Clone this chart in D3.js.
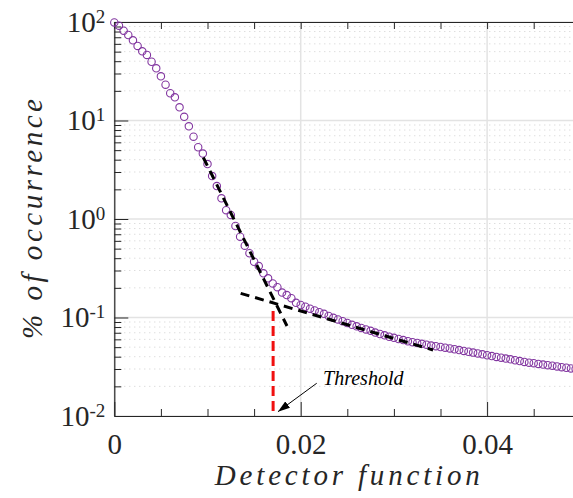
<!DOCTYPE html>
<meta charset="utf-8">
<style>
body { margin: 0; background: #fff; }
svg { font-family: "Liberation Serif", serif; }
.tick line { stroke: #262626; }
.domain { stroke: #262626; }
.tick text { fill: #262626; font-size: 29px; font-family: "Liberation Serif", serif; }
</style>
<body>
<svg id="chart" width="573" height="498"></svg>
<script src="https://d3js.org/d3.v7.min.js"></script>
<script>

// detector function values (x) and % of occurrence (y)
var detX = [0,0.0005,0.001,0.0015,0.002,0.0025,0.003,0.0035,0.004,0.0045,
  0.005,0.0055,0.006,0.0065,0.007,0.0075,0.008,0.0085,0.009,0.0095,
  0.01,0.0105,0.011,0.0115,0.012,0.0125,0.013,0.0135,0.014,0.0145,
  0.015,0.0155,0.016,0.0165,0.017,0.0175,0.018,0.0185,0.019,0.0195,
  0.02,0.0205,0.021,0.0215,0.022,0.0225,0.023,0.0235,0.024,0.0245,
  0.025,0.0255,0.026,0.0265,0.027,0.0275,0.028,0.0285,0.029,0.0295,
  0.03,0.0305,0.031,0.0315,0.032,0.0325,0.033,0.0335,0.034,0.0345,
  0.035,0.0355,0.036,0.0365,0.037,0.0375,0.038,0.0385,0.039,0.0395,
  0.04,0.0405,0.041,0.0415,0.042,0.0425,0.043,0.0435,0.044,0.0445,
  0.045,0.0455,0.046,0.0465,0.047,0.0475,0.048,0.0485,0.049,0.0495,0.05];
var occurrence = [99,91.7,81.6,73.8,65.2,57.1,50.4,46.3,39.5,33.9,
  28.1,23.1,18.9,17.2,13.6,10.9,8.73,6.85,5.35,4.62,
  3.61,2.73,2.16,1.62,1.23,1.10,0.849,0.661,0.535,0.449,
  0.368,0.333,0.281,0.250,0.222,0.203,0.179,0.169,0.157,0.141,
  0.134,0.1285,0.123,0.118,0.113,0.109,0.1038,0.0993,0.0955,0.0917,
  0.0879,0.0843,0.0813,0.0784,0.0757,0.0733,0.0703,0.0680,0.0659,0.0638,
  0.0622,0.0605,0.0590,0.0574,0.0562,0.0551,0.0541,0.0530,0.0519,0.0511,
  0.0502,0.0494,0.0485,0.0476,0.0467,0.0458,0.0449,0.0440,0.0432,0.0423,
  0.0414,0.0406,0.0398,0.0391,0.0383,0.0376,0.0368,0.0361,0.0354,0.0348,
  0.0344,0.0338,0.0333,0.0328,0.0324,0.0319,0.0313,0.0309,0.0304,0.0300,0.0297];

// two fitted lines and the threshold
var steepFit = [[0.00955, 4.21], [0.01853, 0.082]];
var tailFit = [[0.01356, 0.176], [0.0342, 0.0468]];
var threshold = 0.01704;
var thresholdTop = 0.1164;

var xMajor = [0, 0.02, 0.04];
var xMinor = [0.005, 0.01, 0.015, 0.025, 0.03, 0.035, 0.045];
var yMajor = [0.01, 0.1, 1, 10, 100];
var yExp = ["-2", "-1", "0", "1", "2"];
var yMinor = [];
yMajor.slice(0, 4).forEach(d => [2,3,4,5,6,7,8,9].forEach(m => yMinor.push(d * m)));

var m = {left: 114.3, right: 580.3, top: 22, bottom: 416};

var x = d3.scaleLinear().domain([0, 0.05]).range([m.left, m.right]);
var y = d3.scaleLog().domain([0.01, 100]).range([m.bottom, m.top]);

var svg = d3.select("#chart");

// grid
svg.append("g").selectAll("line")
  .data(yMinor).enter().append("line")
  .attr("x1", m.left).attr("x2", m.right)
  .attr("y1", d => y(d)).attr("y2", d => y(d))
  .attr("stroke", "#cfcfcf").attr("stroke-width", 1)
  .attr("stroke-dasharray", "1,4");
svg.append("g").selectAll("line")
  .data(yMajor).enter().append("line")
  .attr("x1", m.left).attr("x2", m.right)
  .attr("y1", d => y(d)).attr("y2", d => y(d))
  .attr("stroke", "#e3e3e3").attr("stroke-width", 1.5);
svg.append("g").selectAll("line")
  .data(xMajor).enter().append("line")
  .attr("x1", d => x(d)).attr("x2", d => x(d))
  .attr("y1", m.top).attr("y2", m.bottom)
  .attr("stroke", "#e3e3e3").attr("stroke-width", 1.5);

// axes
svg.append("g").attr("transform", `translate(0,${m.bottom})`)
  .call(d3.axisBottom(x).tickValues(xMajor).tickSizeInner(-14).tickSizeOuter(0)
    .tickPadding(17).tickFormat(d => d === 0 ? "0" : d3.format(".2f")(d)));
svg.append("g").attr("transform", `translate(0,${m.bottom})`)
  .call(d3.axisBottom(x).tickValues(xMinor).tickSizeInner(-7).tickSizeOuter(0).tickFormat(""))
  .select(".domain").remove();
svg.append("g").attr("transform", `translate(0,${m.top})`)
  .call(d3.axisTop(x).tickValues(xMajor.concat(xMinor)).tickSizeInner(-7).tickSizeOuter(0).tickFormat(""));

var yAxis = svg.append("g").attr("transform", `translate(${m.left},0)`)
  .call(d3.axisLeft(y).tickValues(yMajor).tickSizeInner(-14).tickSizeOuter(0).tickPadding(9).tickFormat(""));
yAxis.selectAll(".tick text").each(function(d, i) {
  var t = d3.select(this);
  t.append("tspan").text("10");
  t.append("tspan").attr("dy", -9).style("font-size", "19px").text(yExp[i]);
});
svg.append("g").attr("transform", `translate(${m.left},0)`)
  .call(d3.axisLeft(y).tickValues(yMinor).tickSizeInner(-7).tickSizeOuter(0).tickFormat(""))
  .select(".domain").remove();
svg.selectAll(".domain").attr("stroke-width", 1.2);

// data
svg.append("g").selectAll("circle")
  .data(detX).enter().append("circle")
  .attr("cx", d => x(d))
  .attr("cy", (d, i) => y(occurrence[i]))
  .attr("r", 3.7)
  .attr("fill", "none")
  .attr("stroke", "#8236a0")
  .attr("stroke-width", 1.1);

var line = d3.line().x(d => x(d[0])).y(d => y(d[1]));
[steepFit, tailFit].forEach(f => {
  svg.append("path").attr("d", line(f))
    .attr("fill", "none").attr("stroke", "#000")
    .attr("stroke-width", 3).attr("stroke-dasharray", "9,6");
});

svg.append("line")
  .attr("x1", x(threshold)).attr("x2", x(threshold))
  .attr("y1", y(thresholdTop)).attr("y2", y(0.01))
  .attr("stroke", "#f01010").attr("stroke-width", 3)
  .attr("stroke-dasharray", "10,5");

// annotation
svg.append("defs").append("marker")
  .attr("id", "arrow").attr("viewBox", "0 0 12 8")
  .attr("refX", 12).attr("refY", 4)
  .attr("markerWidth", 12).attr("markerHeight", 8)
  .attr("markerUnits", "userSpaceOnUse")
  .attr("orient", "auto")
  .append("path").attr("d", "M0,0L12,4L0,8Z").attr("fill", "#000");
svg.append("line")
  .attr("x1", x(0.02172)).attr("y1", y(0.0215))
  .attr("x2", x(0.01756)).attr("y2", y(0.01106))
  .attr("stroke", "#000").attr("stroke-width", 1)
  .attr("marker-end", "url(#arrow)");
svg.append("text")
  .attr("x", x(0.0224)).attr("y", y(0.0206))
  .style("font-size", "20px").style("font-style", "italic")
  .attr("fill", "#000")
  .text("Threshold");

// titles
svg.append("text")
  .attr("x", (m.left + m.right) / 2).attr("y", 485)
  .attr("text-anchor", "middle")
  .attr("textLength", 265).attr("lengthAdjust", "spacing")
  .style("font-size", "29px").style("font-style", "italic")
  .attr("fill", "#262626")
  .text("Detector function");
svg.append("text")
  .attr("transform", `translate(42,${(m.top + m.bottom) / 2}) rotate(-90)`)
  .attr("text-anchor", "middle")
  .attr("textLength", 240).attr("lengthAdjust", "spacing")
  .style("font-size", "29px").style("font-style", "italic")
  .attr("fill", "#262626")
  .text("% of occurrence");

</script>
</body>
